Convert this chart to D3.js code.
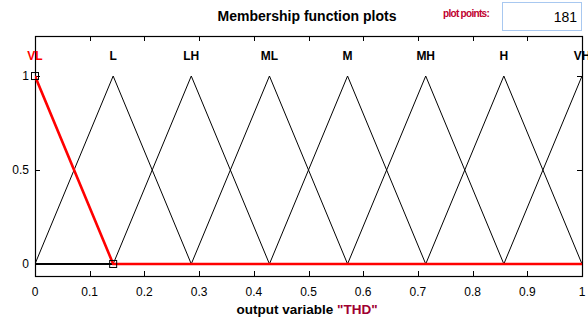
<!DOCTYPE html>
<html>
<head>
<meta charset="utf-8">
<script src="https://cdn.jsdelivr.net/npm/d3@7"></script>
<style>
  body { margin: 0; background: #fff; }
  svg { display: block; font-family: "Liberation Sans", Arial, sans-serif; }
</style>
</head>
<body>
<svg id="chart"></svg>
<script>
// membership function names and triangle params [a, b, c]
const mfNames = ["VL", "L", "LH", "ML", "M", "MH", "H", "VH"];
const mfParams = [
    [-0.1429, 0, 0.1429],
    [0, 0.1429, 0.2857],
    [0.1429, 0.2857, 0.4286],
    [0.2857, 0.4286, 0.5714],
    [0.4286, 0.5714, 0.7143],
    [0.5714, 0.7143, 0.8571],
    [0.7143, 0.8571, 1],
    [0.8571, 1, 1.1429]
];
const selectedMf = 0;
const xTicks = [0, 0.1, 0.2, 0.3, 0.4, 0.5, 0.6, 0.7, 0.8, 0.9, 1];
const yTicks = [0, 0.5, 1];
const plotPoints = "181";

const width = 588, height = 325;
const svg = d3.select("#chart").attr("width", width).attr("height", height);

const margin = { top: 36, right: 6, bottom: 49, left: 35 };
const x = d3.scaleLinear().domain([0, 1]).range([margin.left, width - margin.right]);
const y = d3.scaleLinear().domain([-0.064, 1.213]).range([height - margin.bottom, margin.top]);

// header
svg.append("text")
    .attr("x", 307).attr("y", 21)
    .attr("text-anchor", "middle")
    .attr("font-size", 14)
    .attr("font-weight", "bold")
    .text("Membership function plots");

svg.append("text")
    .attr("x", 466).attr("y", 17)
    .attr("text-anchor", "middle")
    .attr("font-size", 10)
    .attr("font-weight", "bold")
    .attr("fill", "#c00030")
    .attr("letter-spacing", -0.7)
    .text("plot points:");

svg.append("rect")
    .attr("x", 502.5).attr("y", 2.5)
    .attr("width", 79).attr("height", 28)
    .attr("fill", "#fff")
    .attr("stroke", "#a8c8f0");

svg.append("text")
    .attr("x", 577).attr("y", 22)
    .attr("text-anchor", "end")
    .attr("font-size", 14)
    .text(plotPoints);

// axes box, ticks pointing inward on all sides
const x0 = x(0), x1 = x(1), yTop = y.range()[1], yBot = y.range()[0];

const ax = svg.append("g").attr("stroke", "#000").attr("fill", "none");
ax.append("rect")
    .attr("x", x0 + 0.5).attr("y", yTop + 0.5)
    .attr("width", x1 - x0).attr("height", yBot - yTop)
    .attr("stroke-width", 1.2);

ax.selectAll("line.xb").data(xTicks.slice(1, -1)).join("line")
    .attr("class", "xb")
    .attr("x1", d => Math.round(x(d)) + 0.5).attr("x2", d => Math.round(x(d)) + 0.5)
    .attr("y1", yBot).attr("y2", yBot - 5);
ax.selectAll("line.xt").data(xTicks.slice(1, -1)).join("line")
    .attr("class", "xt")
    .attr("x1", d => Math.round(x(d)) + 0.5).attr("x2", d => Math.round(x(d)) + 0.5)
    .attr("y1", yTop).attr("y2", yTop + 5);
ax.selectAll("line.yl").data(yTicks).join("line")
    .attr("class", "yl")
    .attr("x1", x0).attr("x2", x0 + 5)
    .attr("y1", d => Math.round(y(d)) + 0.5).attr("y2", d => Math.round(y(d)) + 0.5);
ax.selectAll("line.yr").data(yTicks).join("line")
    .attr("class", "yr")
    .attr("x1", x1).attr("x2", x1 - 5)
    .attr("y1", d => Math.round(y(d)) + 0.5).attr("y2", d => Math.round(y(d)) + 0.5);

svg.selectAll("text.xl").data(xTicks).join("text")
    .attr("class", "xl")
    .attr("x", d => x(d)).attr("y", yBot + 20)
    .attr("text-anchor", "middle")
    .attr("font-size", 12)
    .text(d => String(d));

svg.selectAll("text.yl").data(yTicks).join("text")
    .attr("class", "yl")
    .attr("x", x0 - 6).attr("y", d => y(d) + 4)
    .attr("text-anchor", "end")
    .attr("font-size", 12)
    .text(d => String(d));

const xt = svg.append("text")
    .attr("x", 307).attr("y", 314)
    .attr("text-anchor", "middle")
    .attr("font-size", 13.5)
    .attr("font-weight", "bold");
xt.append("tspan").text("output variable ");
xt.append("tspan").attr("fill", "#a00030").text("\"THD\"");

// clip curves to the x domain
svg.append("clipPath").attr("id", "clip")
    .append("rect")
    .attr("x", x0).attr("y", yTop)
    .attr("width", x1 - x0 + 1).attr("height", yBot - yTop);

const tri = (p, v) => {
    const [a, b, c] = p;
    if (v <= a || v >= c) return 0;
    return v <= b ? (v - a) / (b - a) : (c - v) / (c - b);
};

// points on each MF over [0, 1] plus its vertices
const pts = p => {
    const xs = [0, 1].concat(p.filter(v => v >= 0 && v <= 1));
    return Array.from(new Set(xs)).sort((a, b) => a - b).map(v => [v, tri(p, v)]);
};

const line = d3.line().x(d => x(d[0])).y(d => y(d[1]));

const curves = svg.append("g").attr("clip-path", "url(#clip)").attr("fill", "none");
curves.selectAll("path.mf").data(mfParams.filter((_, i) => i !== selectedMf)).join("path")
    .attr("class", "mf")
    .attr("d", p => line(pts(p)))
    .attr("stroke", "#000")
    .attr("stroke-width", 1);

curves.append("path")
    .attr("d", line(pts(mfParams[selectedMf])))
    .attr("stroke", "#ff0000")
    .attr("stroke-width", 2.6);

// vertex markers of the selected MF
const sel = mfParams[selectedMf];
svg.selectAll("rect.mk").data(sel.filter(v => v >= 0 && v <= 1)).join("rect")
    .attr("class", "mk")
    .attr("x", d => x(d) - 3.5).attr("y", d => y(tri(sel, d)) - 3.5)
    .attr("width", 7).attr("height", 7)
    .attr("fill", "none")
    .attr("stroke", "#000");

// MF labels above peaks
svg.selectAll("text.mfl").data(mfNames).join("text")
    .attr("class", "mfl")
    .attr("x", (d, i) => x(mfParams[i][1]))
    .attr("y", 60)
    .attr("text-anchor", "middle")
    .attr("font-size", 12)
    .attr("font-weight", "bold")
    .attr("fill", (d, i) => i === selectedMf ? "#ff0000" : "#000")
    .text(d => d);
</script>
</body>
</html>
